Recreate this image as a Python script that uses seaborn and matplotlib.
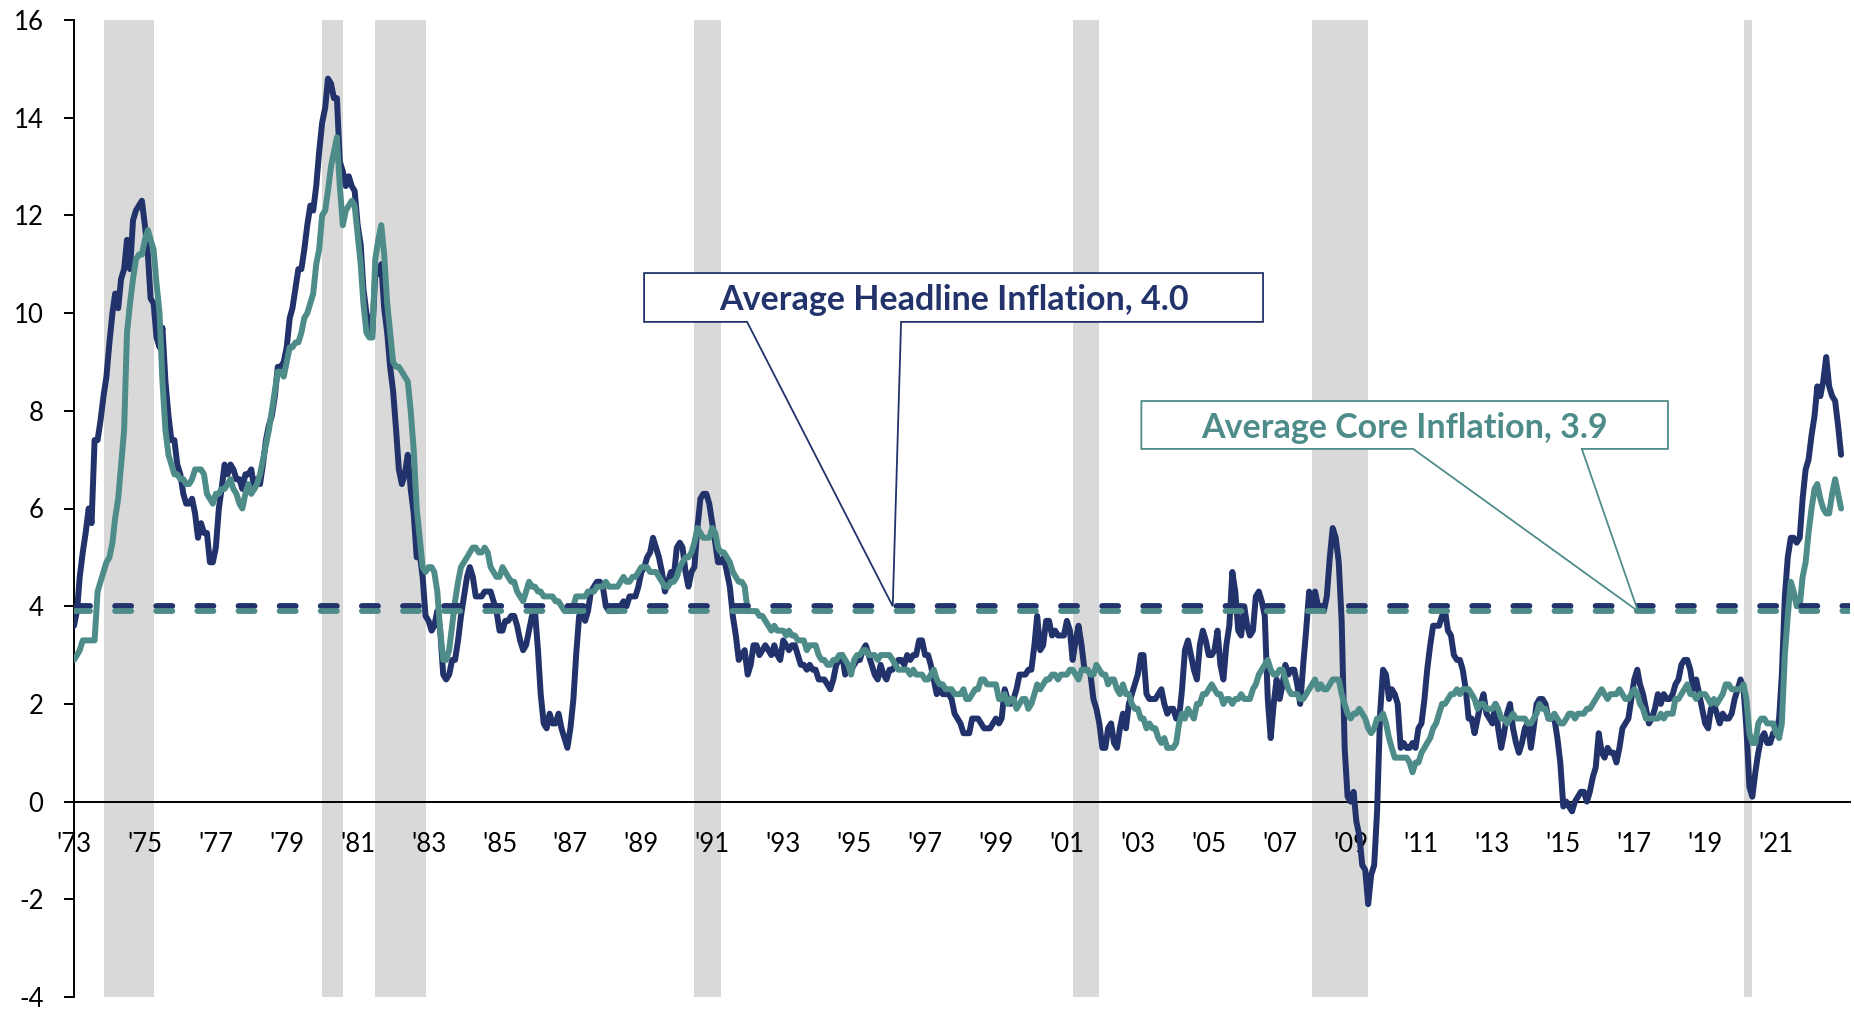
import numpy as np
import pandas as pd
import matplotlib
matplotlib.use("Agg")
import matplotlib.pyplot as plt
from matplotlib.patches import Polygon
import seaborn as sns

# CPI, year over year % change, monthly from Jan 1973 to Nov 2022
start_month = "1973-01-01"

headline = [
    3.6, 3.9, 4.6, 5.1, 5.5, 6.0, 5.7, 7.4, 7.4, 7.8, 8.3, 8.7,          # 1973
    9.4, 10.0, 10.4, 10.1, 10.7, 10.9, 11.5, 10.9, 11.9, 12.1, 12.2, 12.3,  # 1974
    11.8, 11.2, 10.3, 10.2, 9.5, 9.3, 9.7, 8.6, 7.9, 7.4, 7.4, 6.9,     # 1975
    6.7, 6.3, 6.1, 6.1, 6.2, 5.9, 5.4, 5.7, 5.5, 5.5, 4.9, 4.9,         # 1976
    5.2, 6.0, 6.4, 6.9, 6.7, 6.9, 6.8, 6.6, 6.6, 6.4, 6.7, 6.7,         # 1977
    6.8, 6.4, 6.6, 6.5, 6.9, 7.4, 7.7, 7.9, 8.3, 8.9, 8.9, 9.0,         # 1978
    9.3, 9.9, 10.1, 10.5, 10.9, 10.9, 11.3, 11.8, 12.2, 12.1, 12.6, 13.3,  # 1979
    13.9, 14.2, 14.8, 14.7, 14.4, 14.4, 13.1, 12.9, 12.6, 12.8, 12.6, 12.5,  # 1980
    11.8, 11.4, 10.5, 10.0, 9.8, 9.6, 10.8, 10.8, 11.0, 10.1, 9.6, 8.9,  # 1981
    8.4, 7.6, 6.8, 6.5, 6.7, 7.1, 6.4, 5.9, 5.0, 5.1, 4.6, 3.8,         # 1982
    3.7, 3.5, 3.6, 3.9, 3.5, 2.6, 2.5, 2.6, 2.9, 2.9, 3.3, 3.8,         # 1983
    4.2, 4.6, 4.8, 4.6, 4.2, 4.2, 4.2, 4.3, 4.3, 4.3, 4.1, 3.9,         # 1984
    3.5, 3.5, 3.7, 3.7, 3.8, 3.8, 3.6, 3.3, 3.1, 3.2, 3.5, 3.8,         # 1985
    3.9, 3.1, 2.2, 1.6, 1.5, 1.8, 1.6, 1.6, 1.8, 1.5, 1.3, 1.1,         # 1986
    1.5, 2.1, 3.0, 3.8, 3.9, 3.7, 3.9, 4.3, 4.4, 4.5, 4.5, 4.4,         # 1987
    4.0, 3.9, 3.9, 3.9, 3.9, 4.0, 4.1, 4.0, 4.2, 4.2, 4.2, 4.4,         # 1988
    4.7, 4.8, 5.0, 5.1, 5.4, 5.2, 5.0, 4.7, 4.3, 4.5, 4.7, 4.6,         # 1989
    5.2, 5.3, 5.2, 4.7, 4.4, 4.7, 4.8, 5.6, 6.2, 6.3, 6.3, 6.1,         # 1990
    5.7, 5.3, 4.9, 4.9, 5.0, 4.7, 4.4, 3.8, 3.4, 2.9, 3.0, 3.1,         # 1991
    2.6, 2.8, 3.2, 3.2, 3.0, 3.1, 3.2, 3.1, 3.0, 3.2, 3.0, 2.9,         # 1992
    3.3, 3.2, 3.1, 3.2, 3.2, 3.0, 2.8, 2.8, 2.7, 2.8, 2.7, 2.7,         # 1993
    2.5, 2.5, 2.5, 2.4, 2.3, 2.5, 2.8, 2.9, 3.0, 2.6, 2.7, 2.7,         # 1994
    2.8, 2.9, 2.9, 3.1, 3.2, 3.0, 2.8, 2.6, 2.5, 2.8, 2.6, 2.5,         # 1995
    2.7, 2.7, 2.8, 2.9, 2.9, 2.8, 3.0, 2.9, 3.0, 3.0, 3.3, 3.3,         # 1996
    3.0, 3.0, 2.8, 2.5, 2.2, 2.3, 2.2, 2.2, 2.2, 2.1, 1.8, 1.7,         # 1997
    1.6, 1.4, 1.4, 1.4, 1.7, 1.7, 1.7, 1.6, 1.5, 1.5, 1.5, 1.6,         # 1998
    1.7, 1.6, 1.7, 2.3, 2.1, 2.0, 2.1, 2.3, 2.6, 2.6, 2.6, 2.7,         # 1999
    2.7, 3.2, 3.8, 3.1, 3.2, 3.7, 3.7, 3.4, 3.5, 3.4, 3.4, 3.4,         # 2000
    3.7, 3.5, 2.9, 3.3, 3.6, 3.2, 2.7, 2.7, 2.6, 2.1, 1.9, 1.6,         # 2001
    1.1, 1.1, 1.5, 1.6, 1.2, 1.1, 1.5, 1.8, 1.5, 2.0, 2.2, 2.4,         # 2002
    2.6, 3.0, 3.0, 2.2, 2.1, 2.1, 2.1, 2.2, 2.3, 2.0, 1.8, 1.9,         # 2003
    1.9, 1.7, 1.7, 2.3, 3.1, 3.3, 3.0, 2.7, 2.5, 3.2, 3.5, 3.3,         # 2004
    3.0, 3.0, 3.1, 3.5, 2.8, 2.5, 3.2, 3.6, 4.7, 4.3, 3.5, 3.4,         # 2005
    4.0, 3.6, 3.4, 3.5, 4.2, 4.3, 4.1, 3.8, 2.1, 1.3, 2.0, 2.5,         # 2006
    2.1, 2.4, 2.8, 2.6, 2.7, 2.7, 2.4, 2.0, 2.8, 3.5, 4.3, 4.1,         # 2007
    4.3, 4.0, 4.0, 3.9, 4.2, 5.0, 5.6, 5.4, 4.9, 3.7, 1.1, 0.1,         # 2008
    0.0, 0.2, -0.4, -0.7, -1.3, -1.4, -2.1, -1.5, -1.3, -0.2, 1.8, 2.7,  # 2009
    2.6, 2.1, 2.3, 2.2, 2.0, 1.1, 1.2, 1.1, 1.1, 1.2, 1.1, 1.5,         # 2010
    1.6, 2.1, 2.7, 3.2, 3.6, 3.6, 3.6, 3.8, 3.9, 3.5, 3.4, 3.0,         # 2011
    2.9, 2.9, 2.7, 2.3, 1.7, 1.7, 1.4, 1.7, 2.0, 2.2, 1.8, 1.7,         # 2012
    1.6, 2.0, 1.5, 1.1, 1.4, 1.8, 2.0, 1.5, 1.2, 1.0, 1.2, 1.5,         # 2013
    1.6, 1.1, 1.5, 2.0, 2.1, 2.1, 2.0, 1.7, 1.7, 1.7, 1.3, 0.8,         # 2014
    -0.1, 0.0, -0.1, -0.2, 0.0, 0.1, 0.2, 0.2, 0.0, 0.2, 0.5, 0.7,      # 2015
    1.4, 1.0, 0.9, 1.1, 1.0, 1.0, 0.8, 1.1, 1.5, 1.6, 1.7, 2.1,         # 2016
    2.5, 2.7, 2.4, 2.2, 1.9, 1.6, 1.7, 1.9, 2.2, 2.0, 2.2, 2.1,         # 2017
    2.1, 2.2, 2.4, 2.5, 2.8, 2.9, 2.9, 2.7, 2.3, 2.5, 2.2, 1.9,         # 2018
    1.6, 1.5, 1.9, 2.0, 1.8, 1.6, 1.8, 1.7, 1.7, 1.8, 2.1, 2.3,         # 2019
    2.5, 2.3, 1.5, 0.3, 0.1, 0.6, 1.0, 1.3, 1.4, 1.2, 1.2, 1.4,         # 2020
    1.4, 1.7, 2.6, 4.2, 5.0, 5.4, 5.4, 5.3, 5.4, 6.2, 6.8, 7.0,         # 2021
    7.5, 7.9, 8.5, 8.3, 8.6, 9.1, 8.5, 8.3, 8.2, 7.7, 7.1,              # 2022
]

core = [
    2.9, 3.0, 3.1, 3.3, 3.3, 3.3, 3.3, 3.3, 4.3, 4.5, 4.7, 4.9,         # 1973
    5.0, 5.3, 5.8, 6.2, 6.9, 7.6, 9.6, 10.2, 10.7, 11.1, 11.2, 11.2,    # 1974
    11.5, 11.7, 11.5, 11.3, 10.6, 10.0, 8.6, 7.6, 7.1, 6.9, 6.7, 6.7,   # 1975
    6.6, 6.6, 6.5, 6.5, 6.6, 6.8, 6.8, 6.8, 6.7, 6.3, 6.2, 6.1,         # 1976
    6.3, 6.3, 6.4, 6.4, 6.5, 6.6, 6.4, 6.3, 6.1, 6.0, 6.3, 6.5,         # 1977
    6.3, 6.4, 6.5, 6.7, 7.0, 7.3, 7.6, 8.0, 8.4, 8.8, 8.8, 8.7,         # 1978
    9.0, 9.3, 9.3, 9.4, 9.4, 9.6, 9.9, 10.0, 10.2, 10.4, 11.0, 11.3,    # 1979
    12.0, 12.1, 12.5, 13.0, 13.3, 13.6, 12.6, 11.8, 12.1, 12.2, 12.3, 12.2,  # 1980
    11.6, 11.0, 10.2, 9.6, 9.5, 9.5, 11.1, 11.5, 11.8, 11.2, 10.2, 9.6,  # 1981
    9.0, 8.9, 8.9, 8.8, 8.7, 8.6, 8.0, 7.2, 6.0, 5.4, 4.8, 4.7,         # 1982
    4.8, 4.8, 4.7, 4.3, 3.5, 2.9, 2.9, 3.1, 3.6, 4.1, 4.5, 4.8,         # 1983
    4.9, 5.0, 5.1, 5.2, 5.2, 5.1, 5.1, 5.2, 5.1, 4.8, 4.7, 4.6,         # 1984
    4.6, 4.8, 4.7, 4.6, 4.5, 4.5, 4.3, 4.2, 4.1, 4.3, 4.5, 4.4,         # 1985
    4.4, 4.3, 4.3, 4.2, 4.2, 4.2, 4.2, 4.1, 4.1, 4.0, 3.9, 3.9,         # 1986
    3.9, 4.0, 4.2, 4.2, 4.2, 4.2, 4.3, 4.3, 4.3, 4.4, 4.4, 4.4,         # 1987
    4.5, 4.4, 4.4, 4.4, 4.4, 4.5, 4.6, 4.5, 4.5, 4.6, 4.6, 4.7,         # 1988
    4.8, 4.8, 4.8, 4.7, 4.7, 4.7, 4.6, 4.5, 4.4, 4.4, 4.5, 4.5,         # 1989
    4.6, 4.8, 4.9, 5.0, 5.0, 5.1, 5.3, 5.6, 5.5, 5.4, 5.4, 5.4,         # 1990
    5.6, 5.5, 5.2, 5.1, 5.1, 5.0, 4.9, 4.7, 4.6, 4.5, 4.5, 4.4,         # 1991
    3.9, 3.9, 3.9, 3.9, 3.8, 3.8, 3.7, 3.6, 3.5, 3.6, 3.5, 3.5,         # 1992
    3.5, 3.4, 3.5, 3.4, 3.4, 3.3, 3.3, 3.3, 3.1, 3.2, 3.2, 3.2,         # 1993
    3.0, 2.9, 2.9, 2.8, 2.8, 2.9, 2.9, 3.0, 3.0, 2.9, 2.8, 2.6,         # 1994
    2.9, 3.0, 3.0, 3.1, 3.1, 3.0, 3.0, 3.0, 2.9, 3.0, 3.0, 3.0,         # 1995
    3.0, 2.9, 2.8, 2.7, 2.7, 2.7, 2.7, 2.6, 2.7, 2.6, 2.6, 2.6,         # 1996
    2.5, 2.5, 2.6, 2.7, 2.5, 2.4, 2.4, 2.3, 2.3, 2.3, 2.2, 2.2,         # 1997
    2.2, 2.3, 2.1, 2.1, 2.2, 2.3, 2.3, 2.5, 2.5, 2.4, 2.4, 2.4,         # 1998
    2.4, 2.1, 2.1, 2.2, 2.0, 2.1, 2.1, 1.9, 2.0, 2.1, 2.1, 1.9,         # 1999
    2.0, 2.2, 2.4, 2.3, 2.4, 2.5, 2.5, 2.6, 2.6, 2.5, 2.6, 2.6,         # 2000
    2.6, 2.7, 2.7, 2.6, 2.5, 2.7, 2.7, 2.7, 2.6, 2.6, 2.8, 2.7,         # 2001
    2.6, 2.6, 2.4, 2.5, 2.5, 2.3, 2.2, 2.4, 2.2, 2.2, 2.0, 1.9,         # 2002
    1.9, 1.7, 1.7, 1.5, 1.6, 1.5, 1.5, 1.3, 1.2, 1.3, 1.1, 1.1,         # 2003
    1.1, 1.2, 1.6, 1.8, 1.7, 1.9, 1.8, 1.7, 2.0, 2.0, 2.2, 2.2,         # 2004
    2.3, 2.4, 2.3, 2.2, 2.2, 2.0, 2.1, 2.1, 2.0, 2.1, 2.1, 2.2,         # 2005
    2.1, 2.1, 2.1, 2.3, 2.4, 2.6, 2.7, 2.8, 2.9, 2.7, 2.6, 2.6,         # 2006
    2.7, 2.7, 2.5, 2.3, 2.2, 2.2, 2.2, 2.1, 2.1, 2.2, 2.3, 2.4,         # 2007
    2.5, 2.3, 2.4, 2.3, 2.3, 2.4, 2.5, 2.5, 2.5, 2.2, 2.0, 1.8,         # 2008
    1.7, 1.8, 1.8, 1.9, 1.8, 1.7, 1.5, 1.4, 1.5, 1.7, 1.7, 1.8,         # 2009
    1.6, 1.3, 1.1, 0.9, 0.9, 0.9, 0.9, 0.9, 0.8, 0.6, 0.8, 0.8,         # 2010
    1.0, 1.1, 1.2, 1.3, 1.5, 1.6, 1.8, 2.0, 2.0, 2.1, 2.2, 2.2,         # 2011
    2.3, 2.2, 2.3, 2.3, 2.3, 2.2, 2.1, 1.9, 2.0, 2.0, 1.9, 1.9,         # 2012
    1.9, 2.0, 1.9, 1.7, 1.7, 1.6, 1.7, 1.8, 1.7, 1.7, 1.7, 1.7,         # 2013
    1.6, 1.6, 1.7, 1.8, 2.0, 1.9, 1.9, 1.7, 1.7, 1.8, 1.7, 1.6,         # 2014
    1.6, 1.7, 1.8, 1.8, 1.7, 1.8, 1.8, 1.8, 1.9, 1.9, 2.0, 2.1,         # 2015
    2.2, 2.3, 2.2, 2.1, 2.2, 2.2, 2.2, 2.3, 2.2, 2.1, 2.1, 2.2,         # 2016
    2.3, 2.2, 2.0, 1.9, 1.7, 1.7, 1.7, 1.7, 1.7, 1.8, 1.7, 1.8,         # 2017
    1.8, 1.8, 2.1, 2.1, 2.2, 2.3, 2.4, 2.2, 2.2, 2.1, 2.2, 2.2,         # 2018
    2.2, 2.1, 2.0, 2.1, 2.0, 2.1, 2.2, 2.4, 2.4, 2.3, 2.3, 2.3,         # 2019
    2.3, 2.4, 2.1, 1.4, 1.2, 1.2, 1.6, 1.7, 1.7, 1.6, 1.6, 1.6,         # 2020
    1.4, 1.3, 1.6, 3.0, 3.8, 4.5, 4.3, 4.0, 4.0, 4.6, 4.9, 5.5,         # 2021
    6.0, 6.4, 6.5, 6.2, 6.0, 5.9, 5.9, 6.3, 6.6, 6.3, 6.0,              # 2022
]

avg_headline = 4.0
avg_core = 3.9

recession_start = ["1973-11-01", "1980-01-01", "1981-07-01", "1990-07-01",
                   "2001-03-01", "2007-12-01", "2020-02-01"]
recession_end = ["1975-03-01", "1980-07-01", "1982-11-01", "1991-03-01",
                 "2001-11-01", "2009-06-01", "2020-04-01"]

tick_years = list(range(1973, 2022, 2))
y_ticks = list(range(-4, 17, 2))

NAVY = "#22336B"
TEAL = "#4E8C8A"
GRAY = "#D9D9D9"

assert len(headline) == len(core)
dates = pd.date_range(start_month, periods=len(headline), freq="MS")
df = pd.DataFrame({"date": dates, "Headline": headline, "Core": core})

sns.set_theme(style="white")
plt.rcParams["font.family"] = ["Lato", "DejaVu Sans"]
plt.rcParams["axes.unicode_minus"] = False

fig = plt.figure(figsize=(18.54, 10.09), dpi=100)
ax = fig.add_axes([74 / 1854, 12 / 1009, 1776 / 1854, 977 / 1009])

# recession shading
for s, e in zip(recession_start, recession_end):
    ax.axvspan(pd.Timestamp(s), pd.Timestamp(e) + pd.offsets.MonthBegin(1),
               color=GRAY, lw=0, zorder=0)

sns.lineplot(data=df, x="date", y="Headline", color=NAVY, lw=4.3, ax=ax,
             zorder=3, solid_joinstyle="round", solid_capstyle="round")
sns.lineplot(data=df, x="date", y="Core", color=TEAL, lw=4.3, ax=ax,
             zorder=4, solid_joinstyle="round", solid_capstyle="round")

# average lines
ax.axhline(avg_headline, color=NAVY, lw=4.2, dashes=(2.75, 4.3),
           dash_capstyle="round", zorder=5)
ax.axhline(avg_core, color=TEAL, lw=4.2, dashes=(2.75, 4.3),
           dash_capstyle="round", zorder=6)

ax.set_xlim(pd.Timestamp("1973-01-01"), pd.Timestamp("2023-02-01"))
ax.set_ylim(-4, 16)
ax.set_xlabel("")
ax.set_ylabel("")

ax.set_xticks([pd.Timestamp(f"{y}-01-01") for y in tick_years])
ax.set_xticklabels([f"'{str(y)[2:]}" for y in tick_years])
ax.set_yticks(y_ticks)
ax.set_yticklabels([str(v) for v in y_ticks])

for side in ["top", "right"]:
    ax.spines[side].set_visible(False)
ax.spines["bottom"].set_position(("data", 0))
for side in ["bottom", "left"]:
    ax.spines[side].set_color("black")
    ax.spines[side].set_linewidth(1.4)
ax.spines["bottom"].set_zorder(2)

ax.tick_params(axis="x", bottom=False, length=0, pad=22, labelsize=18.5,
               labelcolor="black")
ax.tick_params(axis="y", left=True, direction="out", length=7, width=1.4,
               color="black", pad=15, labelsize=18.5, labelcolor="black")


def callout(text, color, box, base, tip_x, tip_value):
    x0, x1, y0, y1 = box
    lo, hi = ax.get_ylim()
    tip = (tip_x, (tip_value - lo) / (hi - lo))
    verts = [(x0, y1), (x1, y1), (x1, y0), (base[1], y0), tip,
             (base[0], y0), (x0, y0)]
    ax.add_patch(Polygon(verts, closed=True, transform=ax.transAxes,
                         facecolor="white", edgecolor=color, lw=1.3,
                         zorder=7, clip_on=False))
    ax.text((x0 + x1) / 2, (y0 + y1) / 2 - 0.003, text, transform=ax.transAxes,
            ha="center", va="center", color=color, fontsize=24.5,
            fontweight="bold", zorder=8)


callout("Average Headline Inflation, 4.0", NAVY,
        (0.321, 0.6695, 0.691, 0.741), (0.379, 0.4657), 0.461, avg_headline)
callout("Average Core Inflation, 3.9", TEAL,
        (0.601, 0.8975, 0.561, 0.610), (0.754, 0.849), 0.8806, avg_core)

fig.savefig("out.png", dpi=100)
